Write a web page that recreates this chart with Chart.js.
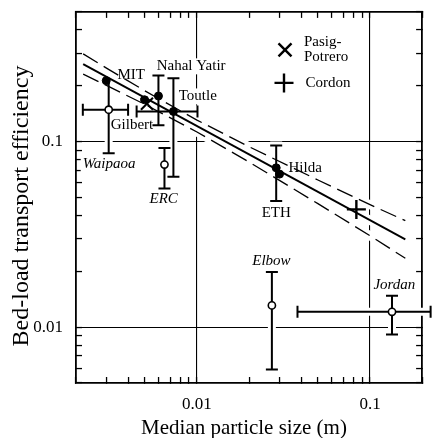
<!DOCTYPE html>
<html>
<head>
<meta charset="utf-8">
<script src="https://cdn.jsdelivr.net/npm/chart.js@4.4.1/dist/chart.umd.min.js"></script>
<style>
  html, body { margin: 0; padding: 0; background: #fff; }
  #wrap { width: 434px; height: 438px; }
</style>
</head>
<body>
<div id="wrap"><canvas id="effChart" width="434" height="438"></canvas></div>
<script>
// median particle size (m) vs bed-load transport efficiency
const filledSites = ["MIT", "Gilbert", "Nahal Yatir", "Toutle", "Hilda", "ETH"];
const filledD = [0.00299, 0.00498, 0.00599, 0.00731, 0.0287, 0.0300];
const filledEff = [0.213, 0.168, 0.176, 0.1454, 0.0722, 0.0668];

const openSites = ["Waipaoa", "ERC", "Elbow", "Jordan"];
const openD = [0.00309, 0.00649, 0.0271, 0.134];
const openEff = [0.1485, 0.0752, 0.0131, 0.0121];

const pasigD = [0.00514];
const pasigEff = [0.160];
const cordonD = [0.0834];
const cordonEff = [0.0431];

// vertical error bars
const yErrSites = ["Waipaoa", "Nahal Yatir", "Toutle", "ERC", "Hilda", "Elbow", "Jordan"];
const yErrLow = [0.0865, 0.1223, 0.0647, 0.0559, 0.0478, 0.00592, 0.00913];
const yErrHigh = [0.208, 0.227, 0.2195, 0.0924, 0.0952, 0.0198, 0.01478];
const yErrTopCap = [false, true, true, true, true, true, true];

// horizontal error bars
const xErrSites = ["Waipaoa", "Toutle", "Jordan"];
const xErrLow = [0.00219, 0.00448, 0.0381];
const xErrHigh = [0.0040, 0.01007, 0.224];

// fitted line and confidence band
const fitD = [0.0022, 0.16];
const fitEff = [0.2617, 0.02969];
const bandD = [0.0022, 0.003, 0.005, 0.01, 0.02, 0.05, 0.1, 0.16];
const bandUpper = [0.297, 0.249, 0.1877, 0.1306, 0.0938, 0.0621, 0.0457, 0.0375];
const bandLower = [0.2308, 0.2007, 0.1586, 0.1127, 0.0776, 0.0463, 0.0311, 0.0235];

// axes
const xTicks = [0.002, 0.003, 0.004, 0.005, 0.006, 0.007, 0.008, 0.009, 0.01,
  0.02, 0.03, 0.04, 0.05, 0.06, 0.07, 0.08, 0.09, 0.1, 0.2];
const yTicks = [0.005, 0.006, 0.007, 0.008, 0.009, 0.01,
  0.02, 0.03, 0.04, 0.05, 0.06, 0.07, 0.08, 0.09, 0.1, 0.2, 0.3, 0.4, 0.5];
const xLabelled = [0.01, 0.1];
const xLabelText = ["0.01", "0.1"];
const yLabelled = [0.01, 0.1];
const yLabelText = ["0.01", "0.1"];

// site labels (offsets in px from the point)
const labelSites = ["MIT", "Nahal Yatir", "Toutle", "Gilbert", "Waipaoa", "ERC", "Hilda", "ETH", "Elbow", "Jordan"];
const labelDx = [25, 32.7, 24.4, -12.6, 0.4, -0.8, 29, -3.3, -0.5, 2.4];
const labelDy = [-6, -29.7, -15, 25.2, 54.5, 34.7, -0.2, 38.5, -44, -26.3];

const serif = "'Liberation Serif', 'Times New Roman', serif";
const isDecade = (v) => v != null && Math.abs(Math.log10(v) - Math.round(Math.log10(v))) < 1e-6;

function sitePos(name) {
  let i = filledSites.indexOf(name);
  if (i >= 0) return [filledD[i], filledEff[i]];
  i = openSites.indexOf(name);
  return [openD[i], openEff[i]];
}

const pts = (xs, ys) => xs.map((v, i) => ({ x: v, y: ys[i] }));

function eachBar(cb) {
  yErrSites.forEach((s, i) => {
    const p = sitePos(s);
    cb(p[0], yErrLow[i], p[0], yErrHigh[i], true, yErrTopCap[i]);
  });
  xErrSites.forEach((s, i) => {
    const p = sitePos(s);
    cb(xErrLow[i], p[1], xErrHigh[i], p[1], false, true);
  });
}

const annotations = {
  id: "annotations",
  beforeDatasetsDraw(chart) {
    const ctx = chart.ctx;
    const px = (v) => chart.scales.x.getPixelForValue(v);
    const py = (v) => chart.scales.y.getPixelForValue(v);
    const cap = 6;

    function bar(x1, y1, x2, y2, vertical, topCap) {
      const a = [px(x1), py(y1)], b = [px(x2), py(y2)];
      ctx.beginPath();
      ctx.moveTo(a[0], a[1]);
      ctx.lineTo(b[0], b[1]);
      if (vertical) {
        ctx.moveTo(a[0] - cap, a[1]); ctx.lineTo(a[0] + cap, a[1]);
        if (topCap) { ctx.moveTo(b[0] - cap, b[1]); ctx.lineTo(b[0] + cap, b[1]); }
      } else {
        ctx.moveTo(a[0], a[1] - cap); ctx.lineTo(a[0], a[1] + cap);
        ctx.moveTo(b[0], b[1] - cap); ctx.lineTo(b[0], b[1] + cap);
      }
      ctx.stroke();
    }

    ctx.save();
    // white halos that break the grid where marks cross it
    ctx.strokeStyle = "#fff";
    ctx.lineWidth = 9;
    [[fitD, fitEff], [bandD, bandUpper], [bandD, bandLower]].forEach(([d, e]) => {
      ctx.beginPath();
      d.forEach((v, i) => (i ? ctx.lineTo(px(v), py(e[i])) : ctx.moveTo(px(v), py(e[i]))));
      ctx.stroke();
    });
    ctx.lineWidth = 8;
    eachBar(bar);

    // label backgrounds
    labelSites.forEach((s, i) => {
      const p = sitePos(s);
      ctx.font = (openSites.includes(s) ? "italic " : "") + "15px " + serif;
      const w = ctx.measureText(s).width;
      const cx = px(p[0]) + labelDx[i], cy = py(p[1]) + labelDy[i];
      ctx.fillStyle = "#fff";
      ctx.fillRect(cx - w / 2 - 2, cy - 8, w + 4, 16);
    });

    // error bars
    ctx.strokeStyle = "#000";
    ctx.lineWidth = 2;
    eachBar(bar);

    // label text
    ctx.fillStyle = "#000";
    ctx.textAlign = "center";
    ctx.textBaseline = "middle";
    labelSites.forEach((s, i) => {
      const p = sitePos(s);
      ctx.font = (openSites.includes(s) ? "italic " : "") + "15px " + serif;
      ctx.fillText(s, px(p[0]) + labelDx[i], py(p[1]) + labelDy[i]);
    });
    ctx.restore();
  },
  afterDraw(chart) {
    const ctx = chart.ctx;
    const ca = chart.chartArea;
    ctx.save();
    ctx.strokeStyle = "#000";
    ctx.fillStyle = "#000";
    ctx.lineWidth = 2.4;
    // legend
    const lx = ca.left + 209, ly = ca.top + 38;
    ctx.beginPath();
    ctx.moveTo(lx - 6.5, ly - 6.5); ctx.lineTo(lx + 6.5, ly + 6.5);
    ctx.moveTo(lx - 6.5, ly + 6.5); ctx.lineTo(lx + 6.5, ly - 6.5);
    const cx = ca.left + 208, cy = ca.top + 71;
    ctx.moveTo(cx - 9.5, cy); ctx.lineTo(cx + 9.5, cy);
    ctx.moveTo(cx, cy - 9.5); ctx.lineTo(cx, cy + 9.5);
    ctx.stroke();
    ctx.font = "15px " + serif;
    ctx.textAlign = "left";
    ctx.textBaseline = "middle";
    ctx.fillText("Pasig-", ca.left + 228, ca.top + 30);
    ctx.fillText("Potrero", ca.left + 228, ca.top + 45.5);
    ctx.fillText("Cordon", ca.left + 229.5, ca.top + 71);

    // axis titles
    ctx.textAlign = "center";
    ctx.font = "21px " + serif;
    ctx.fillText("Median particle size (m)", 244, 428);
    ctx.translate(22, 206);
    ctx.rotate(-Math.PI / 2);
    ctx.font = "24px " + serif;
    ctx.fillText("Bed-load transport efficiency", 0, 0);
    ctx.restore();
  },
};

function logAxis(position, min, max, tickVals, labelled, labelText, size, showLabels, padding) {
  const horizontal = position === "top" || position === "bottom";
  return {
    type: "logarithmic",
    position: position,
    min: min,
    max: max,
    afterBuildTicks: (s) => { s.ticks = tickVals.map((v) => ({ value: v })); },
    afterFit: (s) => {
      if (horizontal) { s.height = size; s.paddingLeft = 0; s.paddingRight = 0; }
      else { s.width = size; s.paddingTop = 0; s.paddingBottom = 0; }
    },
    ticks: {
      display: showLabels,
      autoSkip: false,
      maxRotation: 0,
      padding: padding,
      color: "#000",
      font: { family: serif, size: 17 },
      callback: (v) => { const i = labelled.indexOf(v); return i >= 0 ? labelText[i] : ""; },
    },
    grid: {
      drawOnChartArea: showLabels,
      color: (c) => (isDecade(c.tick && c.tick.value) ? "#000" : "rgba(0,0,0,0)"),
      lineWidth: 1.1,
      tickLength: -6,
      tickColor: "#000",
      tickWidth: 1.3,
    },
    border: { display: true, color: "#000", width: 1.8 },
  };
}

new Chart(document.getElementById("effChart"), {
  type: "scatter",
  data: {
    datasets: [
      {
        label: "Pasig-Potrero",
        data: pts(pasigD, pasigEff),
        pointStyle: "crossRot",
        pointRadius: 8.5,
        borderColor: "#000",
        pointBorderWidth: 2,
        order: 0,
      },
      {
        label: "Cordon",
        data: pts(cordonD, cordonEff),
        pointStyle: "cross",
        pointRadius: 9.5,
        borderColor: "#000",
        pointBorderWidth: 2.4,
        order: 0,
      },
      {
        label: "filled",
        data: pts(filledD, filledEff),
        pointStyle: "circle",
        pointRadius: 4,
        backgroundColor: "#000",
        borderColor: "#000",
        pointBorderWidth: 1,
        order: 1,
      },
      {
        label: "open",
        data: pts(openD, openEff),
        pointStyle: "circle",
        pointRadius: 3.6,
        backgroundColor: "#fff",
        borderColor: "#000",
        pointBorderWidth: 1.6,
        order: 1,
      },
      {
        label: "fit",
        data: pts(fitD, fitEff),
        showLine: true,
        pointRadius: 0,
        borderColor: "#000",
        borderWidth: 1.9,
        order: 2,
      },
      {
        label: "upper",
        data: pts(bandD, bandUpper),
        showLine: true,
        pointRadius: 0,
        borderColor: "#000",
        borderWidth: 1.3,
        borderDash: [17, 7],
        order: 2,
      },
      {
        label: "lower",
        data: pts(bandD, bandLower),
        showLine: true,
        pointRadius: 0,
        borderColor: "#000",
        borderWidth: 1.3,
        borderDash: [17, 7],
        order: 2,
      },
    ],
  },
  options: {
    responsive: false,
    animation: false,
    events: [],
    layout: { padding: 0 },
    plugins: {
      legend: { display: false },
      tooltip: { enabled: false },
    },
    scales: {
      x: logAxis("bottom", 0.002, 0.2, xTicks, xLabelled, xLabelText, 55, true, 17),
      x2: logAxis("top", 0.002, 0.2, xTicks, xLabelled, xLabelText, 10, false, 0),
      y: logAxis("left", 0.005, 0.5, yTicks, yLabelled, yLabelText, 76, true, 19),
      y2: logAxis("right", 0.005, 0.5, yTicks, yLabelled, yLabelText, 9, false, 0),
    },
  },
  plugins: [annotations],
});
</script>
</body>
</html>
